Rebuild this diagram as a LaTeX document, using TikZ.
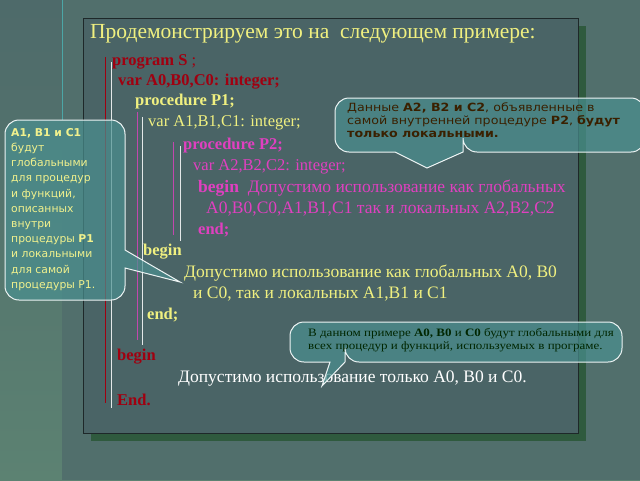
\documentclass[tikz,border=0pt]{standalone}
\usepackage{fontspec}
\usepackage{graphicx}
\setmainfont{Liberation Serif}
\newfontfamily\callsans{DejaVu Sans}
\definecolor{bgtop}{HTML}{4E6A6A}
\definecolor{bgbot}{HTML}{5C8272}
\definecolor{panel}{HTML}{4A6466}
\definecolor{shad}{HTML}{2F5A3E}
\definecolor{ylw}{HTML}{F0F080}
\definecolor{drd}{HTML}{A00010}
\definecolor{mag}{HTML}{E040C0}
\definecolor{callf}{HTML}{4A9090}
\definecolor{brn}{HTML}{3A2000}
\begin{document}
\begin{tikzpicture}[x=1pt,y=-1pt,
  code/.style={anchor=west,inner sep=0pt,font=\fontsize{16.5}{18}\selectfont},
  cyr/.style={code,font=\fontsize{17.5}{19}\selectfont},
  callout/.style={draw=white!90!callf,line width=1pt,fill=callf,fill opacity=0.7,draw opacity=1,rounded corners=14pt}]
\useasboundingbox (0,0) rectangle (640,480);
\shade[top color=bgtop,bottom color=bgbot] (0,0) rectangle (640,480);
\fill[bgtop!80!bgbot] (62,0) rectangle (640,480);
\draw[teal!70!white,line width=0.8pt] (62,0) -- (62,120);
\fill[shad] (91,26) rectangle (586,441);
\fill[panel] (83,18) rectangle (578,433);
\draw[black!60!panel] (83,18) rectangle (578,433);
% vertical lines
\draw[drd,line width=0.8pt] (105,57) -- (105,403);
\draw[white!85!panel,line width=0.8pt] (111,62) -- (111,408);
\draw[mag!80!panel,line width=0.8pt] (137,112) -- (137,340);
\draw[white!85!panel,line width=0.8pt] (142,117) -- (142,345);
\draw[mag!80!panel,line width=0.8pt] (173,142) -- (173,235);
\draw[white!85!panel,line width=0.8pt] (180,146) -- (180,241);
% text
\node[code,text=ylw,font=\fontsize{21.5}{23}\selectfont] (t) at (90,34) {Продемонстрируем это на\ \ следующем примере:};
\node[code,text=drd,font=\fontsize{16.5}{18}\selectfont\bfseries] (l1) at (112,62) {program S \textmd{;}};
\node[code,text=drd] (l2) at (118,82) {\textbf{var A0,B0,C0: integer;}};
\node[code,text=ylw,font=\fontsize{16.5}{18}\selectfont\bfseries] (l3) at (135,102) {procedure P1;};
\node[code,text=ylw] (l4) at (148,123) {var A1,B1,C1: integer;};
\node[code,text=mag,font=\fontsize{16.5}{18}\selectfont\bfseries] (l5) at (183,146) {procedure P2;};
\node[code,text=mag] (l6) at (193,167) {var A2,B2,C2: integer;};
\node[cyr,text=mag] (l7) at (198,188) {\textbf{begin}\ \ Допустимо использование как глобальных};
\node[cyr,text=mag] (l8) at (206,209) {A0,B0,C0,A1,B1,C1 так и локальных A2,B2,C2};
\node[code,text=mag,font=\fontsize{16.5}{18}\selectfont\bfseries] (l9) at (198,230) {end;};
\node[code,text=ylw,font=\fontsize{16.5}{18}\selectfont\bfseries] (l10) at (143,252) {begin};
\node[cyr,text=ylw] (l11) at (184,273) {Допустимо использование как глобальных A0, B0};
\node[cyr,text=ylw] (l12) at (193,294) {и C0, так и локальных A1,B1 и C1};
\node[code,text=ylw,font=\fontsize{16.5}{18}\selectfont\bfseries] (l13) at (147,315) {end;};
\node[code,text=drd,font=\fontsize{16.5}{18}\selectfont\bfseries] (l14) at (117,357) {begin};
\node[cyr,text=white] (l15) at (178,379) {Допустимо использование только A0, B0 и C0.};
\node[code,text=drd,font=\fontsize{16.5}{18}\selectfont\bfseries] (l16) at (117,400) {End.};
% left callout
\draw[callout] (5,120) -- (125,120) -- (125,232) [sharp corners]-- (125,250) -- (180,282) -- (125,268) [rounded corners=14pt] -- (125,300) -- (5,300) -- cycle;
\node[anchor=north west,align=left,text=ylw!90!white,inner sep=0pt,font=\callsans\fontsize{10.8}{15.2}\selectfont] (c1) at (11,128)
 {\textbf{A1, B1 и C1}\\будут\\глобальными\\для процедур\\и функций,\\описанных\\внутри\\процедуры \textbf{P1}\\и локальными\\для  самой\\процедуры P1.};
% top right callout
\draw[callout] (335,98) -- (645,98) -- (645,152) -- (463,152) [sharp corners]-- (463,152) -- (427,168) -- (395,152) [rounded corners=14pt] -- (335,152) -- cycle;
\node[anchor=north west,inner sep=0pt,text=brn] (c2) at (347,103)
 {\scalebox{1.12}[1]{\callsans\fontsize{11.3}{12.5}\selectfont\begin{tabular}{@{}l@{}}Данные \textbf{A2, B2 и C2}, объявленные в\\самой внутренней  процедуре \textbf{P2}, \textbf{будут}\\\textbf{только локальными.}\end{tabular}}};
% bottom right callout
\draw[callout] (290,322) -- (622,322) -- (622,362) -- (345,362) [sharp corners]-- (345,362) -- (322,386) -- (330,362) [rounded corners=14pt] -- (290,362) -- cycle;
\node[anchor=north west,inner sep=0pt,text=black!85!green] (c3) at (308,328)
 {\scalebox{1.15}[1]{\fontsize{11.3}{12.5}\selectfont\begin{tabular}{@{}l@{}}В данном примере \textbf{A0, B0} и \textbf{C0} будут глобальными для\\всех  процедур и функций, используемых в програме.\end{tabular}}};
\end{tikzpicture}
\end{document}
